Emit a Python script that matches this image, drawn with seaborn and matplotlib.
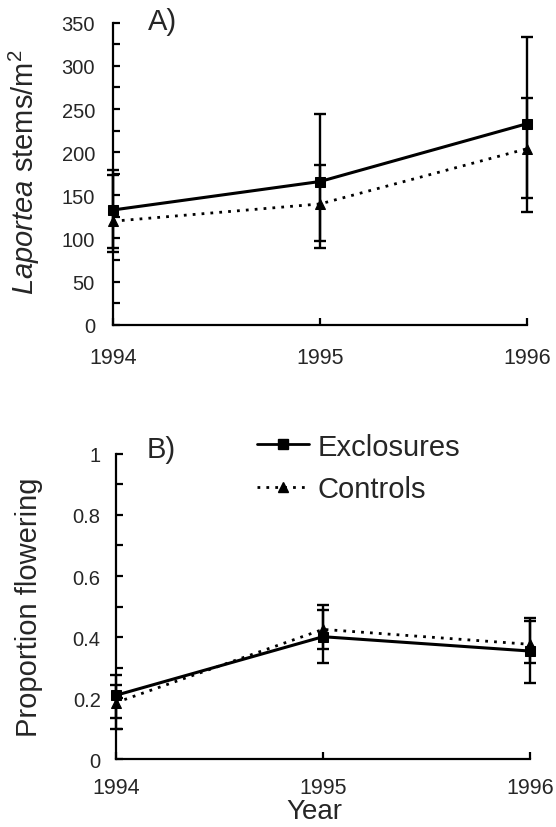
import numpy as np
import pandas as pd
import matplotlib
matplotlib.use("Agg")
import matplotlib.pyplot as plt
from matplotlib.lines import Line2D
from matplotlib.ticker import MultipleLocator
import seaborn as sns

# ---------------- data ----------------
years = [1994, 1995, 1996]
groups = ["Exclosures", "Controls"]

# Panel A: Laportea stems/m2
stems_ex_mean = [133, 166, 233]
stems_ex_lo = [89, 89, 131]
stems_ex_hi = [179, 244, 334]
stems_ct_mean = [120, 140, 204]
stems_ct_lo = [84, 97, 147]
stems_ct_hi = [174, 185, 263]

# Panel B: proportion flowering
flow_ex_mean = [0.209, 0.401, 0.354]
flow_ex_lo = [0.133, 0.316, 0.248]
flow_ex_hi = [0.275, 0.488, 0.461]
flow_ct_mean = [0.185, 0.425, 0.376]
flow_ct_lo = [0.100, 0.362, 0.316]
flow_ct_hi = [0.242, 0.504, 0.452]

a_yticks = [0, 50, 100, 150, 200, 250, 300, 350]
b_yticks = [0, 0.2, 0.4, 0.6, 0.8, 1]
b_yticklabels = ["0", "0.2", "0.4", "0.6", "0.8", "1"]

# ---------------- style ----------------
sns.set_style("ticks")
plt.rcParams["font.family"] = ["Liberation Sans", "DejaVu Sans"]
plt.rcParams["mathtext.fontset"] = "custom"
plt.rcParams["mathtext.rm"] = "Liberation Sans"
plt.rcParams["mathtext.it"] = "Liberation Sans:italic"

DOT = (0, (1.0, 2.2))
markers = {"Exclosures": "s", "Controls": "^"}

fig = plt.figure(figsize=(5.56, 8.28), dpi=100)
axA = fig.add_axes([0.2032, 0.6066, 0.7446, 0.3647])
axB = fig.add_axes([0.2086, 0.0821, 0.7446, 0.3684])


def make_df(ex_mean, ct_mean):
    return pd.DataFrame({
        "year": years * 2,
        "value": list(ex_mean) + list(ct_mean),
        "group": ["Exclosures"] * 3 + ["Controls"] * 3,
    })


def draw(ax, ex_mean, ex_lo, ex_hi, ct_mean, ct_lo, ct_hi):
    df = make_df(ex_mean, ct_mean)
    for g in ("Controls", "Exclosures"):
        sub = df[df["group"] == g]
        sns.lineplot(data=sub, x="year", y="value", ax=ax, color="black",
                     marker=markers[g], markersize=7 if g == "Exclosures" else 7.5,
                     markeredgecolor="black",
                     lw=2.2 if g == "Exclosures" else 2.0,
                     linestyle="-" if g == "Exclosures" else DOT,
                     legend=False, clip_on=False, zorder=3)
    for mean, lo, hi in ((ex_mean, ex_lo, ex_hi), (ct_mean, ct_lo, ct_hi)):
        mean = np.asarray(mean); lo = np.asarray(lo); hi = np.asarray(hi)
        ax.errorbar(years, mean, yerr=[mean - lo, hi - mean], fmt="none",
                    ecolor="black", elinewidth=1.7, capsize=4.5, capthick=1.7,
                    clip_on=False, zorder=2)
    ax.set_xlim(1994, 1996)
    ax.set_xticks(years)
    ax.set_xticklabels([str(y) for y in years])
    for s in ("top", "right"):
        ax.spines[s].set_visible(False)
    for s in ("left", "bottom"):
        ax.spines[s].set_linewidth(1.6)
        ax.spines[s].set_color("black")
    ax.tick_params(axis="both", which="both", direction="in", length=5,
                   width=1.6, color="black")
    ax.tick_params(axis="y", which="major", labelsize=14.5, pad=13)
    ax.tick_params(axis="x", which="major", labelsize=15.5, pad=16)
    ax.set_xlabel("")


draw(axA, stems_ex_mean, stems_ex_lo, stems_ex_hi, stems_ct_mean, stems_ct_lo, stems_ct_hi)
axA.set_ylim(0, 350)
axA.set_yticks(a_yticks)
axA.yaxis.set_minor_locator(MultipleLocator(25))
axA.set_ylabel(r"$\mathit{Laportea}$ stems/m$^2$", fontsize=21)
axA.yaxis.set_label_coords(-0.172, 0.51)
axA.text(0.085, 0.98, "A)", transform=axA.transAxes, fontsize=21,
         ha="left", va="baseline")

draw(axB, flow_ex_mean, flow_ex_lo, flow_ex_hi, flow_ct_mean, flow_ct_lo, flow_ct_hi)
axB.set_ylim(0, 1)
axB.set_yticks(b_yticks)
axB.set_yticklabels(b_yticklabels)
axB.yaxis.set_minor_locator(MultipleLocator(0.1))
axB.tick_params(axis="y", which="major", pad=11)
axB.tick_params(axis="x", which="major", pad=13)
axB.set_ylabel("Proportion flowering", fontsize=21)
axB.yaxis.set_label_coords(-0.176, 0.5)
axB.set_xlabel("Year", fontsize=20)
axB.xaxis.set_label_coords(0.478, -0.128)
axB.text(0.075, 0.99, "B)", transform=axB.transAxes, fontsize=21,
         ha="left", va="baseline")

handles = [
    Line2D([], [], color="black", lw=2.0, marker="s", markersize=6.5),
    Line2D([], [], color="black", lw=2.0, linestyle=DOT, marker="^", markersize=6.5),
]
axB.legend(handles, groups, loc="upper left", bbox_to_anchor=(0.34, 1.07),
           frameon=False, fontsize=21, handlelength=1.8, handletextpad=0.3,
           labelspacing=0.5, borderpad=0, borderaxespad=0, numpoints=1)

fig.savefig("out.png", dpi=100)
